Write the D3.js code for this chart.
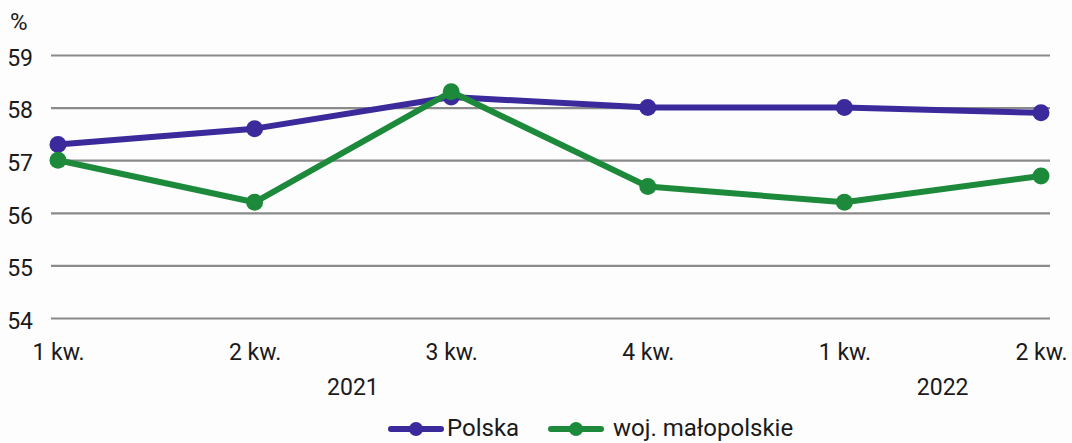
<!DOCTYPE html>
<html>
<head>
<meta charset="utf-8">
<script src="https://cdn.jsdelivr.net/npm/d3@7"></script>
<style>
  body { margin: 0; background: #fdfdfd; }
  svg { display: block; }
  svg text { font-family: Roboto, "Noto Sans", sans-serif; }
</style>
</head>
<body>
<div id="chart"></div>
<script>
// data
var quarters = ['1 kw.', '2 kw.', '3 kw.', '4 kw.', '1 kw.', '2 kw.'];
var years = [{ label: '2021', from: 1, to: 2 }, { label: '2022', from: 4, to: 5 }];
var polska = [57.3, 57.6, 58.2, 58.0, 58.0, 57.9];
var malopolskie = [57.0, 56.2, 58.3, 56.5, 56.2, 56.7];
var yTicks = [54, 55, 56, 57, 58, 59];

var width = 1072, height = 443;
var plot = { left: 51, right: 1050, top: 55, bottom: 318 };
var textColor = '#1a1a1a';

var series = [
  { name: 'Polska', values: polska, color: '#3b2a9b' },
  { name: 'woj. małopolskie', values: malopolskie, color: '#1d8a3b' }
];

var svg = d3.select('#chart').append('svg')
    .attr('width', width)
    .attr('height', height);

var x = d3.scalePoint()
    .domain(d3.range(quarters.length))
    .range([58, 1041]);

var y = d3.scaleLinear()
    .domain([54, 59])
    .range([plot.bottom, plot.top]);

// grid + y labels
var yAxis = svg.append('g')
    .attr('transform', 'translate(' + plot.left + ',0)')
    .call(d3.axisLeft(y).tickValues(yTicks).tickFormat(d3.format('d'))
      .tickSize(-(plot.right - plot.left)).tickPadding(18));
yAxis.select('.domain').remove();
yAxis.selectAll('.tick line').attr('stroke', '#8a8a8a').attr('stroke-width', 2.2);
yAxis.selectAll('.tick text')
    .attr('fill', textColor)
    .style('font-size', '23px')
    .attr('dy', '0.45em');

svg.append('text')
    .attr('x', 10).attr('y', 30)
    .attr('fill', textColor)
    .style('font-size', '24px')
    .text('%');

// x labels
var xAxis = svg.append('g')
    .attr('transform', 'translate(0,' + plot.bottom + ')')
    .call(d3.axisBottom(x).tickFormat(function (i) { return quarters[i]; }).tickSize(0).tickPadding(26));
xAxis.select('.domain').remove();
xAxis.selectAll('.tick text')
    .attr('fill', textColor)
    .style('font-size', '23px');

svg.selectAll('.year')
    .data(years)
    .enter().append('text')
    .attr('class', 'year')
    .attr('x', function (d) { return (x(d.from) + x(d.to)) / 2; })
    .attr('y', 395)
    .attr('text-anchor', 'middle')
    .attr('fill', textColor)
    .style('font-size', '23px')
    .text(function (d) { return d.label; });

// lines
var line = d3.line()
    .x(function (d, i) { return x(i); })
    .y(function (d) { return y(d); });

series.forEach(function (s) {
  var g = svg.append('g');
  g.append('path')
    .datum(s.values)
    .attr('fill', 'none')
    .attr('stroke', s.color)
    .attr('stroke-width', 6)
    .attr('stroke-linejoin', 'round')
    .attr('d', line);
  g.selectAll('circle')
    .data(s.values)
    .enter().append('circle')
    .attr('cx', function (d, i) { return x(i); })
    .attr('cy', function (d) { return y(d); })
    .attr('r', 8.5)
    .attr('fill', s.color);
});

// legend
var legendItems = [
  { s: series[0], x: 391, tx: 447 },
  { s: series[1], x: 551, tx: 613 }
];
var legend = svg.append('g').attr('transform', 'translate(0,429)');
legendItems.forEach(function (d) {
  legend.append('line')
    .attr('x1', d.x).attr('x2', d.x + 50)
    .attr('stroke', d.s.color)
    .attr('stroke-width', 6)
    .attr('stroke-linecap', 'round');
  legend.append('circle')
    .attr('cx', d.x + 25)
    .attr('r', 7)
    .attr('fill', d.s.color);
  legend.append('text')
    .attr('x', d.tx)
    .attr('y', 7)
    .attr('fill', textColor)
    .style('font-size', '24px')
    .text(d.s.name);
});
</script>
</body>
</html>
